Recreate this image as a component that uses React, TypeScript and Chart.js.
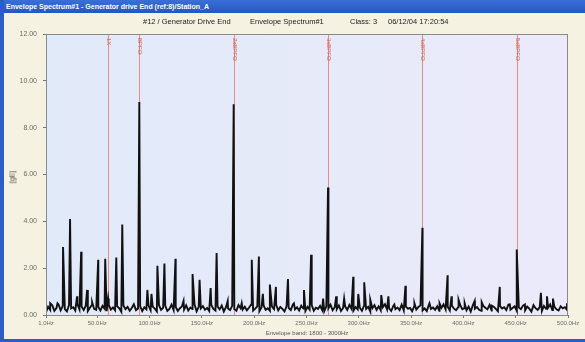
import React, { useEffect, useRef } from "react";
import { Chart, registerables } from "chart.js";

Chart.register(...registerables);

// Envelope spectrum: noise floor sampled every 2 Hz starting at 1 Hz
const floorStartHz = 1;
const floorStepHz = 2;
const noiseFloor = [
  0.12, 0.35, 0.22, 0.41, 0.18, 0.30, 0.45, 0.20, 0.38, 0.25, 0.15, 0.42, 0.28, 0.33, 0.19, 0.47, 0.24, 0.36, 0.21, 0.40, 0.17, 0.31, 0.44, 0.26, 0.22,
  0.34, 0.19, 0.39, 0.27, 0.16, 0.43, 0.23, 0.32, 0.20, 0.37, 0.29, 0.14, 0.41, 0.25, 0.35, 0.18, 0.30, 0.46, 0.21, 0.28, 0.38, 0.17, 0.33, 0.24, 0.40,
  0.20, 0.36, 0.27, 0.15, 0.42, 0.22, 0.31, 0.39, 0.18, 0.26, 0.44, 0.21, 0.34, 0.17, 0.29, 0.37, 0.23, 0.41, 0.19, 0.32, 0.25, 0.45, 0.16, 0.35, 0.28,
  0.38, 0.22, 0.30, 0.17, 0.43, 0.26, 0.19, 0.36, 0.24, 0.40, 0.15, 0.33, 0.28, 0.21, 0.39, 0.25, 0.18, 0.42, 0.29, 0.23, 0.35, 0.20, 0.31, 0.44, 0.19,
  0.27, 0.37, 0.16, 0.32, 0.41, 0.22, 0.29, 0.18, 0.36, 0.25, 0.43, 0.20, 0.34, 0.26, 0.15, 0.38, 0.30, 0.21, 0.45, 0.24, 0.33, 0.19, 0.40, 0.28, 0.17,
  0.35, 0.23, 0.42, 0.18, 0.31, 0.26, 0.39, 0.21, 0.16, 0.37, 0.29, 0.44, 0.20, 0.33, 0.25, 0.41, 0.17, 0.30, 0.36, 0.22, 0.43, 0.27, 0.19, 0.34, 0.24,
  0.31, 0.18, 0.40, 0.26, 0.35, 0.15, 0.29, 0.42, 0.22, 0.37, 0.20, 0.33, 0.46, 0.24, 0.28, 0.17, 0.39, 0.25, 0.32, 0.21, 0.44, 0.19, 0.36, 0.27, 0.30,
  0.16, 0.38, 0.23, 0.34, 0.41, 0.20, 0.28, 0.17, 0.43, 0.26, 0.32, 0.22, 0.37, 0.18, 0.30, 0.45, 0.24, 0.35, 0.19, 0.40, 0.27, 0.21, 0.33, 0.42, 0.25,
  0.29, 0.20, 0.36, 0.15, 0.41, 0.27, 0.34, 0.22, 0.18, 0.39, 0.31, 0.24, 0.43, 0.19, 0.35, 0.26, 0.16, 0.38, 0.28, 0.33, 0.21, 0.44, 0.23, 0.30, 0.37,
  0.18, 0.32, 0.25, 0.40, 0.20, 0.36, 0.27, 0.14, 0.42, 0.29, 0.22, 0.34, 0.17, 0.39, 0.26, 0.31, 0.45, 0.21, 0.35, 0.24, 0.19, 0.37, 0.28, 0.33, 0.22,
];

// Discrete spectral lines (Hz) and their amplitudes (gE)
const peakHz = [
  5, 12, 17.3, 24, 30.7, 34.6, 40.3, 45.1, 50.9, 57.6, 60.4, 68.2, 73.9, 90.2, 97.9, 101.8, 107.5, 114.2, 124.8, 132.5,
  141.1, 147.8, 158.4, 164.1, 174.7, 180.4, 188.1, 197.7, 204.5, 208.3, 215, 220.8, 232.3, 238, 247.6, 254.4, 265.9, 270.6,
  278.4, 286, 294.7, 299.5, 305.2, 311, 321.5, 328.3, 334, 344.6, 353.2, 360.8, 367.6, 377.2, 384.9, 388.7, 395.4, 401.2,
  410.8, 417.5, 427.1, 434.8, 444.4, 451, 458.8, 474.1, 479.9, 485.6, 499,
];
const peakAmp = [
  0.5, 0.5, 2.9, 4.1, 0.8, 2.7, 1.07, 0.55, 2.36, 2.4, 0.7, 2.45, 3.86, 9.1, 1.07, 0.9, 2.1, 2.2, 2.4, 0.6,
  1.75, 1.5, 1.15, 2.65, 0.6, 9.0, 0.5, 2.36, 2.5, 0.9, 1.3, 1.2, 1.54, 0.5, 1.07, 2.57, 0.7, 5.44,
  0.8, 0.7, 1.63, 0.9, 1.4, 0.65, 0.85, 0.8, 0.45, 1.25, 0.5, 3.73, 0.5, 0.5, 1.7, 0.8, 0.65, 0.5,
  0.6, 0.55, 0.4, 1.2, 0.45, 2.8, 0.45, 0.95, 0.8, 0.7, 0.5,
];

// Fault-frequency cursors
const markerHz = [60.4, 90.2, 180.4, 270.6, 360.8, 451.0];
const markerLabels = ["1X", "BPFO", "2xBPFO", "3xBPFO", "4xBPFO", "5xBPFO"];

const xTickHz = [1, 50, 100, 150, 200, 250, 300, 350, 400, 450, 500];
const yTickValues = [0, 2, 4, 6, 8, 10, 12];

const xTitle = "Envelope band: 1800 - 3000Hz";
const yTitle = "[gE]";
const windowTitle = "Envelope Spectrum#1 - Generator drive End (ref:8)/Station_A";
const headerParts = ["#12 / Generator Drive End", "Envelope Spectrum#1", "Class: 3", "06/12/04 17:20:54"];

function buildSpectrum() {
  const pts: { x: number; y: number }[] = [];
  noiseFloor.forEach((v, i) => pts.push({ x: floorStartHz + i * floorStepHz, y: v }));
  peakHz.forEach((f, i) => pts.push({ x: f, y: peakAmp[i] }));
  pts.sort((a, b) => a.x - b.x);
  return pts;
}

const plotBackground = {
  id: "plotBackground",
  beforeDraw(chart: any) {
    const { ctx, chartArea: a } = chart;
    ctx.save();
    const g = ctx.createLinearGradient(a.left, 0, a.right, 0);
    g.addColorStop(0, "#e1eaf9");
    g.addColorStop(1, "#ebeafa");
    ctx.fillStyle = g;
    ctx.fillRect(a.left, a.top, a.right - a.left, a.bottom - a.top);
    ctx.restore();
  },
};

const cursors = {
  id: "cursors",
  beforeDatasetsDraw(chart: any) {
    const { ctx, chartArea: a, scales } = chart;
    ctx.save();
    ctx.strokeStyle = "rgba(225,120,105,0.8)";
    ctx.lineWidth = 1;
    markerHz.forEach((f) => {
      const x = Math.round(scales.x.getPixelForValue(f)) + 0.5;
      ctx.beginPath();
      ctx.moveTo(x, a.top);
      ctx.lineTo(x, a.bottom);
      ctx.stroke();
    });
    ctx.restore();
  },
  afterDatasetsDraw(chart: any) {
    const { ctx, chartArea: a, scales } = chart;
    ctx.save();
    ctx.fillStyle = "#d65a4e";
    ctx.font = "6px 'Liberation Sans', Arial, sans-serif";
    ctx.textBaseline = "middle";
    ctx.textAlign = "left";
    markerHz.forEach((f, i) => {
      const x = Math.round(scales.x.getPixelForValue(f)) + 0.5;
      ctx.save();
      ctx.translate(x, a.top + 4);
      ctx.rotate(Math.PI / 2);
      ctx.fillText(markerLabels[i], 0, 0);
      ctx.restore();
    });
    // plot frame
    ctx.strokeStyle = "#8a8a8a";
    ctx.lineWidth = 1;
    ctx.strokeRect(a.left + 0.5, a.top + 0.5, a.right - a.left - 1, a.bottom - a.top);
    ctx.restore();
  },
};

export default function App() {
  const canvasRef = useRef<HTMLCanvasElement | null>(null);

  useEffect(() => {
    if (!canvasRef.current) return;
    const chart = new Chart(canvasRef.current, {
      type: "line",
      data: {
        datasets: [
          {
            data: buildSpectrum(),
            borderColor: "#111111",
            borderWidth: 1.9,
            pointRadius: 0,
            tension: 0,
            fill: false,
          },
        ],
      },
      options: {
        animation: false,
        responsive: false,
        devicePixelRatio: 1,
        layout: { padding: { left: 0, top: 34, right: 17, bottom: 0 } },
        plugins: { legend: { display: false }, tooltip: { enabled: false } },
        scales: {
          x: {
            type: "linear",
            min: 1,
            max: 500,
            afterBuildTicks: (s: any) => {
              s.ticks = xTickHz.map((v) => ({ value: v }));
            },
            afterFit: (s: any) => {
              s.height = 27;
            },
            ticks: {
              autoSkip: false,
              maxRotation: 0,
              padding: 2,
              color: "#6a6a6a",
              font: { size: 6, family: "'Liberation Sans', Arial, sans-serif" },
              callback: (v: any) => Number(v).toFixed(1) + "Hz",
            },
            grid: { drawOnChartArea: false, tickLength: 3, color: "#777" },
            border: { color: "#777" },
            title: {
              display: true,
              text: xTitle,
              color: "#555",
              padding: { top: 1, bottom: 5 },
              font: { size: 6, family: "'Liberation Sans', Arial, sans-serif" },
            },
          },
          y: {
            min: 0,
            max: 12,
            afterBuildTicks: (s: any) => {
              s.ticks = yTickValues.map((v) => ({ value: v }));
            },
            afterFit: (s: any) => {
              s.width = 46;
            },
            ticks: {
              padding: 6,
              color: "#6a6a6a",
              font: { size: 7, family: "'Liberation Sans', Arial, sans-serif" },
              callback: (v: any) => Number(v).toFixed(2),
            },
            grid: { drawOnChartArea: false, tickLength: 3, color: "#777" },
            border: { color: "#777" },
          },
        },
      },
      plugins: [plotBackground, cursors],
    });
    return () => chart.destroy();
  }, []);

  const font = "'Liberation Sans', Arial, sans-serif";
  return (
    <div
      style={{
        position: "fixed",
        left: 0,
        top: 0,
        width: 585,
        height: 342,
        overflow: "hidden",
        background: "#f6f2e2",
        fontFamily: font,
      }}
    >
      {/* window title bar */}
      <div
        style={{
          position: "absolute",
          left: 0,
          top: 0,
          width: 585,
          height: 13,
          background: "linear-gradient(#3a6fd8, #2456c2)",
          color: "#fff",
          fontSize: 7,
          fontWeight: "bold",
          lineHeight: "13px",
          paddingLeft: 6,
          whiteSpace: "nowrap",
        }}
      >
        {windowTitle}
      </div>
      {/* window borders */}
      <div style={{ position: "absolute", left: 0, top: 0, width: 4, height: 342, background: "#2d5cc4" }} />
      <div style={{ position: "absolute", left: 0, top: 339, width: 585, height: 3, background: "#2d5cc4" }} />
      <canvas ref={canvasRef} width={585} height={342} style={{ position: "absolute", left: 0, top: 0 }} />
      {/* header line */}
      <div
        style={{
          position: "absolute",
          top: 17,
          left: 0,
          height: 10,
          fontSize: 7.5,
          lineHeight: "10px",
          color: "#222",
          whiteSpace: "nowrap",
        }}
      >
        <span style={{ position: "absolute", left: 143 }}>{headerParts[0]}</span>
        <span style={{ position: "absolute", left: 250 }}>{headerParts[1]}</span>
        <span style={{ position: "absolute", left: 350 }}>{headerParts[2]}</span>
        <span style={{ position: "absolute", left: 388 }}>{headerParts[3]}</span>
      </div>
      {/* y axis title */}
      <div
        style={{
          position: "absolute",
          left: 12,
          top: 177,
          fontSize: 7,
          color: "#444",
          transform: "translate(-50%, -50%) rotate(-90deg)",
          whiteSpace: "nowrap",
        }}
      >
        {yTitle}
      </div>
    </div>
  );
}
